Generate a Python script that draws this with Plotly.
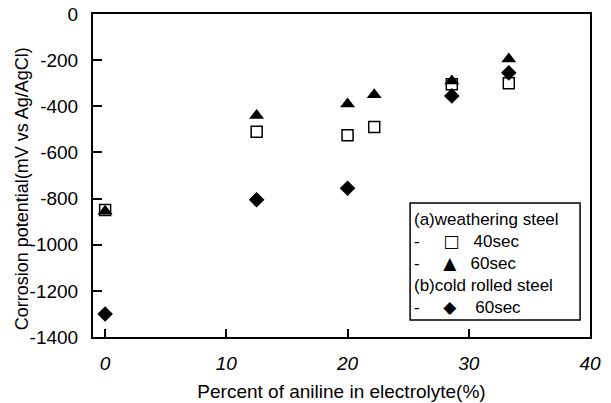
import plotly.graph_objects as go

x_ws40 = [0, 12.5, 20, 22.2, 28.6, 33.3]
y_ws40 = [-850, -510, -525, -490, -305, -300]
x_ws60 = [0, 12.5, 20, 22.2, 28.6, 33.3]
y_ws60 = [-855, -440, -390, -350, -290, -195]
x_cr60 = [0, 12.5, 20, 28.6, 33.3]
y_cr60 = [-1300, -805, -755, -355, -255]

x_ticks = [0, 10, 20, 30, 40]
y_ticks = [0, -200, -400, -600, -800, -1000, -1200, -1400]

FONT = "Liberation Sans, Arial, sans-serif"

fig = go.Figure()
fig.add_trace(go.Scatter(x=x_ws40, y=y_ws40, mode="markers", name="40sec",
                         marker=dict(symbol="square-open", size=11, color="black",
                                     line=dict(width=1.5, color="black"))))
fig.add_trace(go.Scatter(x=x_ws60, y=y_ws60, mode="markers", name="60sec",
                         marker=dict(symbol="triangle-up", size=13, color="black")))
fig.add_trace(go.Scatter(x=x_cr60, y=y_cr60, mode="markers", name="60sec cr",
                         marker=dict(symbol="diamond", size=12, color="black")))

fig.update_layout(
    width=611, height=403,
    margin=dict(l=93, r=21, t=14, b=66),
    paper_bgcolor="white", plot_bgcolor="white",
    showlegend=False,
    font=dict(family=FONT, size=19, color="black"),
    xaxis=dict(range=[-1.0, 40], tickvals=x_ticks, ticktext=[str(v) for v in x_ticks],
               ticks="inside", ticklen=8, tickwidth=2, tickcolor="black",
               showline=True, linewidth=2, linecolor="black", mirror=True,
               showgrid=False, zeroline=False, ticklabelstandoff=8, automargin=False,
               tickfont=dict(family=FONT, size=19, style="italic"),
               title=dict(text="Percent of aniline in electrolyte(%)", standoff=12,
                          font=dict(size=19))),
    yaxis=dict(range=[-1400, 0], tickvals=y_ticks, ticktext=[str(v) for v in y_ticks],
               ticks="inside", ticklen=9, tickwidth=2, tickcolor="black",
               showline=True, linewidth=2, linecolor="black", mirror=True,
               showgrid=False, zeroline=False, ticklabelstandoff=9, automargin=False,
               tickfont=dict(family=FONT, size=19)),
)

# y-axis title (placed slightly lower than centre, as in the reference)
fig.add_annotation(xref="paper", yref="paper", x=-0.143, y=0.46,
                   text="Corrosion potential(mV vs Ag/AgCl)", textangle=-90,
                   showarrow=False, xanchor="center", yanchor="middle",
                   font=dict(size=18))

# legend box
fig.add_shape(type="rect", xref="paper", yref="paper",
              x0=0.638, x1=0.98, y0=0.053, y1=0.415,
              line=dict(color="black", width=1.5), fillcolor="white")

NB = "\u00a0"
G = '<span style="font-family:DejaVu Sans">{}</span>'
legend_rows = [
    "(a)weathering steel",
    "-" + NB * 5 + G.format("□") + NB * 3 + "40sec",
    "-" + NB * 5 + G.format("▲") + NB * 3 + "60sec",
    "(b)cold rolled steel",
    "-" + NB * 5 + G.format("◆") + NB * 4 + "60sec",
]
fig.add_annotation(xref="paper", yref="paper", x=0.641, y=0.228,
                   text="<br>".join(legend_rows), align="left",
                   showarrow=False, xanchor="left", yanchor="middle",
                   font=dict(size=17))

fig.write_html("out.html")
